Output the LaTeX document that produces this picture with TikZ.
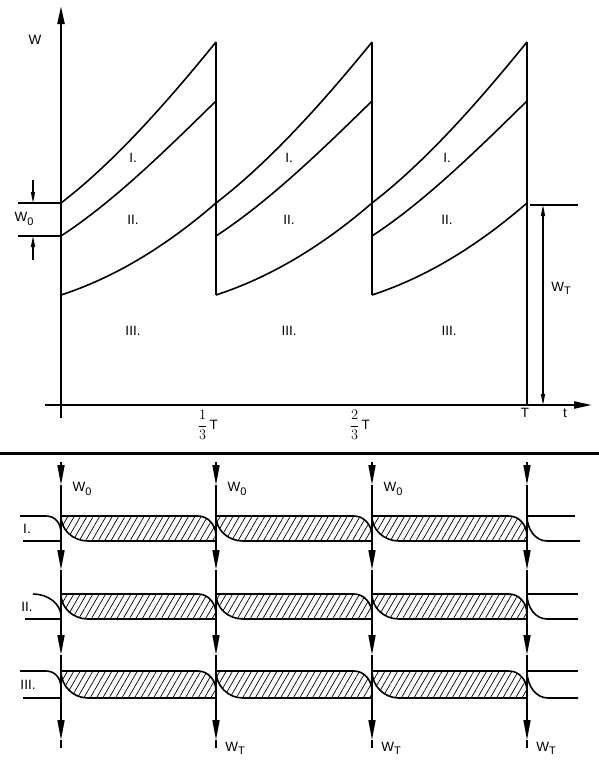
\documentclass[tikz,border=0pt]{standalone}
\usepackage{fontspec}
\setmainfont{Liberation Sans}
\usetikzlibrary{arrows.meta,patterns.meta}
\newcommand{\lowsub}[1]{\raisebox{-0.45ex}{\fontsize{11}{12}\selectfont #1}}

\begin{document}
\begin{tikzpicture}[x=1pt,y=-1pt,font=\fontsize{13.5}{15}\selectfont]
\useasboundingbox (0,0) rectangle (599,766);

\coordinate (Ybot) at (61,418);
\coordinate (Ytop) at (61,6);
\coordinate (Xleft) at (45,405);
\coordinate (Xright) at (592,405);

\coordinate (S1_top) at (61,203);
\coordinate (S1_mid) at (61,236);
\coordinate (S1_bot) at (61,295);
\coordinate (E1_top) at (216,42);
\coordinate (E1_mid) at (216,101);
\coordinate (E1_bot) at (216,203);
\coordinate (S2_top) at (216,203);
\coordinate (S2_mid) at (216,236);
\coordinate (S2_bot) at (216,295);
\coordinate (E2_top) at (372,42);
\coordinate (E2_mid) at (372,101);
\coordinate (E2_bot) at (372,203);
\coordinate (S3_top) at (372,203);
\coordinate (S3_mid) at (372,236);
\coordinate (S3_bot) at (372,295);
\coordinate (E3_top) at (527,42);
\coordinate (E3_mid) at (527,101);
\coordinate (E3_bot) at (527,203);
\coordinate (E3_axis) at (527,405);


\tikzset{AxisStyle/.style = {line width=2.2pt, -{Triangle[length=18pt,width=7pt]}} }
\tikzset{CurveStyle/.style = {line width=1.6pt} }
\tikzset{DimStyle/.style = {line width=1.1pt} }
\tikzset{DimTip/.style = {-{Triangle[length=11pt,width=4pt]}} }

\draw[AxisStyle] (Ybot) -- (Ytop);
\draw[AxisStyle] (Xleft) -- (Xright);

\draw[CurveStyle] (S1_top) .. controls (113,163) and (164,106) .. (E1_top);
\draw[CurveStyle] (S1_mid) .. controls (113,202) and (164,152) .. (E1_mid);
\draw[CurveStyle] (S1_bot) .. controls (113,278) and (164,248) .. (E1_bot);
\draw[CurveStyle] (S2_top) .. controls (268,163) and (320,106) .. (E2_top);
\draw[CurveStyle] (S2_mid) .. controls (268,202) and (320,152) .. (E2_mid);
\draw[CurveStyle] (S2_bot) .. controls (268,278) and (320,248) .. (E2_bot);
\draw[CurveStyle] (S3_top) .. controls (424,163) and (475,106) .. (E3_top);
\draw[CurveStyle] (S3_mid) .. controls (424,202) and (475,152) .. (E3_mid);
\draw[CurveStyle] (S3_bot) .. controls (424,278) and (475,248) .. (E3_bot);

\draw[CurveStyle] (E1_top) -- (S2_bot);
\draw[CurveStyle] (E2_top) -- (S3_bot);
\draw[CurveStyle] (E3_top) -- (E3_axis);

\coordinate (R0_a) at (18,203);
\coordinate (R0_b) at (18,236);
\coordinate (D0_a) at (33,180);
\coordinate (D0_b) at (33,203);
\coordinate (D0_c) at (33,260);
\coordinate (D0_d) at (33,236);
\coordinate (RT_a) at (530,205);
\coordinate (RT_b) at (578,205);
\coordinate (DT_a) at (543,205);
\coordinate (DT_b) at (543,405);

\draw[DimStyle] (R0_a) -- (S1_top);
\draw[DimStyle] (R0_b) -- (S1_mid);
\draw[DimStyle, DimTip] (D0_a) -- (D0_b);
\draw[DimStyle, DimTip] (D0_c) -- (D0_d);
\draw[DimStyle] (RT_a) -- (RT_b);
\draw[DimStyle, {Triangle[length=11pt,width=4pt]}-{Triangle[length=11pt,width=4pt]}] (DT_a) -- (DT_b);

\node (Lw) at (35,40) {W};
\node (Lw0) at (24,219) {W\lowsub{0}};
\node (LwT) at (561,288) {W\lowsub{T}};
\node (Lt1) at (208,425) {$\displaystyle\frac{1}{3}$\,T};
\node (Lt2) at (360,425) {$\displaystyle\frac{2}{3}$\,T};
\node (LtT) at (525,413) {T};
\node (Lt) at (565,413) {t};

\node (A1) at (133,158) {I.};
\node (A2) at (289,158) {I.};
\node (A3) at (447,158) {I.};
\node (B1) at (133,220) {II.};
\node (B2) at (289,220) {II.};
\node (B3) at (447,220) {II.};
\node (C1) at (133,331) {III.};
\node (C2) at (289,331) {III.};
\node (C3) at (449,331) {III.};


\draw[line width=3pt] (0,453) -- (599,453);


\tikzset{FlowStyle/.style = {line width=1.6pt, -{Triangle[length=20pt,width=7pt]}} }
\tikzset{BandStyle/.style = {line width=1.6pt} }
\tikzset{HatchStyle/.style = {line width=1.6pt,
 pattern={Lines[angle=60,distance=5.5pt,line width=0.7pt]}} }

\draw[HatchStyle] (61,516) -- (198,516) .. controls (208,516) and (216,525) .. (216,536) -- (216,541) -- (88,541) .. controls (73,541) and (61,530) .. (61,516) -- cycle;
\draw[HatchStyle] (216,516) -- (354,516) .. controls (364,516) and (372,525) .. (372,536) -- (372,541) -- (243,541) .. controls (228,541) and (216,530) .. (216,516) -- cycle;
\draw[HatchStyle] (372,516) -- (509,516) .. controls (519,516) and (527,525) .. (527,536) -- (527,541) -- (399,541) .. controls (384,541) and (372,530) .. (372,516) -- cycle;
\draw[HatchStyle] (61,594) -- (198,594) .. controls (208,594) and (216,603) .. (216,614) -- (216,619) -- (88,619) .. controls (73,619) and (61,608) .. (61,594) -- cycle;
\draw[HatchStyle] (216,594) -- (354,594) .. controls (364,594) and (372,603) .. (372,614) -- (372,619) -- (243,619) .. controls (228,619) and (216,608) .. (216,594) -- cycle;
\draw[HatchStyle] (372,594) -- (509,594) .. controls (519,594) and (527,603) .. (527,614) -- (527,619) -- (399,619) .. controls (384,619) and (372,608) .. (372,594) -- cycle;
\draw[HatchStyle] (61,671) -- (198,671) .. controls (208,671) and (216,680) .. (216,691) -- (216,698) -- (88,698) .. controls (73,698) and (61,686) .. (61,671) -- cycle;
\draw[HatchStyle] (216,671) -- (354,671) .. controls (364,671) and (372,680) .. (372,691) -- (372,698) -- (243,698) .. controls (228,698) and (216,686) .. (216,671) -- cycle;
\draw[HatchStyle] (372,671) -- (509,671) .. controls (519,671) and (527,680) .. (527,691) -- (527,698) -- (399,698) .. controls (384,698) and (372,686) .. (372,671) -- cycle;

\draw[BandStyle] (20,516) -- (46,516) .. controls (55,516) and (61,523) .. (61,533);
\draw[BandStyle] (23,541) -- (61,541);
\draw[BandStyle] (33,594) .. controls (48,594) and (61,604) .. (61,616);
\draw[BandStyle] (25,619) -- (61,619);
\draw[BandStyle] (20,671) -- (46,671) .. controls (55,671) and (61,678) .. (61,688);
\draw[BandStyle] (23,698) -- (61,698);

\draw[BandStyle] (527,516) -- (575,516);
\draw[BandStyle] (527,516) .. controls (527,530) and (536,541) .. (547,541) -- (580,541);
\draw[BandStyle] (527,594) -- (578,594);
\draw[BandStyle] (527,594) .. controls (527,608) and (536,619) .. (547,619) -- (578,619);
\draw[BandStyle] (527,671) -- (578,671);
\draw[BandStyle] (527,671) .. controls (527,686) and (536,698) .. (548,698) -- (578,698);

\coordinate (F1_0) at (61,462);
\coordinate (F1_1) at (61,485);
\coordinate (F1_2) at (61,570);
\coordinate (F1_3) at (61,655);
\coordinate (F1_4) at (61,740);
\coordinate (F1_5) at (61,748);
\coordinate (F2_0) at (216,462);
\coordinate (F2_1) at (216,485);
\coordinate (F2_2) at (216,570);
\coordinate (F2_3) at (216,655);
\coordinate (F2_4) at (216,740);
\coordinate (F2_5) at (216,748);
\coordinate (F3_0) at (372,462);
\coordinate (F3_1) at (372,485);
\coordinate (F3_2) at (372,570);
\coordinate (F3_3) at (372,655);
\coordinate (F3_4) at (372,740);
\coordinate (F3_5) at (372,748);
\coordinate (F4_0) at (527,462);
\coordinate (F4_1) at (527,485);
\coordinate (F4_2) at (527,570);
\coordinate (F4_3) at (527,655);
\coordinate (F4_4) at (527,740);
\coordinate (F4_5) at (527,748);

\draw[FlowStyle] (F1_0) -- (F1_1);
\draw[FlowStyle] (F1_1) -- (F1_2);
\draw[FlowStyle] (F1_2) -- (F1_3);
\draw[FlowStyle] (F1_3) -- (F1_4);
\draw[BandStyle] (F1_4) -- (F1_5);
\draw[FlowStyle] (F2_0) -- (F2_1);
\draw[FlowStyle] (F2_1) -- (F2_2);
\draw[FlowStyle] (F2_2) -- (F2_3);
\draw[FlowStyle] (F2_3) -- (F2_4);
\draw[BandStyle] (F2_4) -- (F2_5);
\draw[FlowStyle] (F3_0) -- (F3_1);
\draw[FlowStyle] (F3_1) -- (F3_2);
\draw[FlowStyle] (F3_2) -- (F3_3);
\draw[FlowStyle] (F3_3) -- (F3_4);
\draw[BandStyle] (F3_4) -- (F3_5);
\draw[FlowStyle] (F4_0) -- (F4_1);
\draw[FlowStyle] (F4_1) -- (F4_2);
\draw[FlowStyle] (F4_2) -- (F4_3);
\draw[FlowStyle] (F4_3) -- (F4_4);
\draw[BandStyle] (F4_4) -- (F4_5);

\node (N1) at (27,529) {I.};
\node (N2) at (27,607) {II.};
\node (N3) at (28,685) {III.};

\node (In1) at (82,489) {W\lowsub{0}};
\node (In2) at (237,489) {W\lowsub{0}};
\node (In3) at (393,489) {W\lowsub{0}};
\node (Out2) at (235,748) {W\lowsub{T}};
\node (Out3) at (391,748) {W\lowsub{T}};
\node (Out4) at (546,748) {W\lowsub{T}};

\end{tikzpicture}
\end{document}
